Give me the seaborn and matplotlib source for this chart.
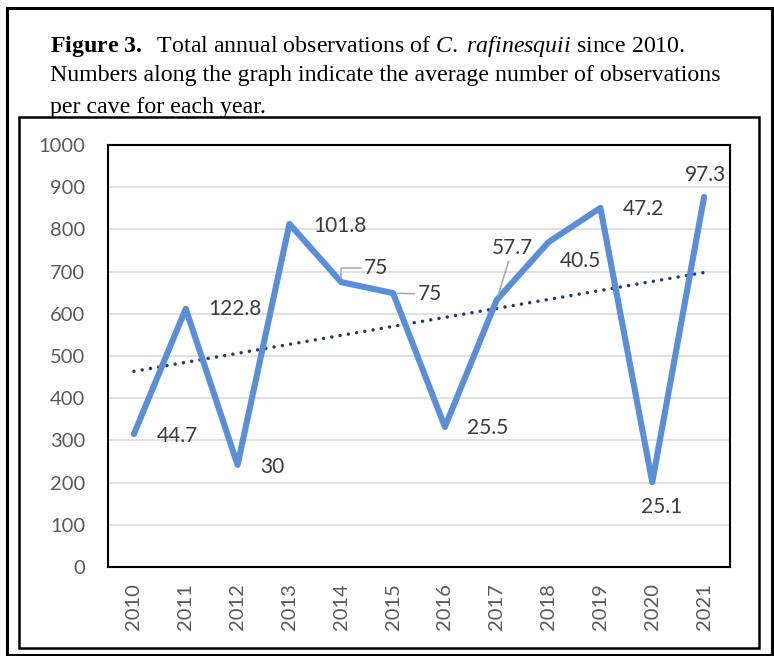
import numpy as np
import pandas as pd
import seaborn as sns
from matplotlib import pyplot as plt
from matplotlib.patches import Rectangle

years = [2010, 2011, 2012, 2013, 2014, 2015, 2016, 2017, 2018, 2019, 2020, 2021]
observations = [315, 612, 242, 813, 675, 649, 332, 633, 770, 851, 201, 877]
avg_per_cave = [44.7, 122.8, 30, 101.8, 75, 75, 25.5, 57.7, 40.5, 47.2, 25.1, 97.3]

# label offsets in pixels (dx, dy) and which ones get a leader line
label_offsets = [(43, -2), (49, 0), (35, -2), (50, -2), (35, 14), (37, -1),
                 (43, -1), (16, 52), (32, -19), (43, -1), (9, -25), (1, 22)]
leaders = {2014: 'angle,angleA=0,angleB=90,rad=0', 2015: 'arc3', 2017: 'arc3'}

df = pd.DataFrame({'Year': years, 'Observations': observations})

sns.set_style('white')
plt.rcParams['font.family'] = ['Lato', 'DejaVu Sans']
plt.rcParams['mathtext.fontset'] = 'custom'
plt.rcParams['mathtext.rm'] = 'Liberation Serif'
plt.rcParams['mathtext.it'] = 'Liberation Serif:italic'
plt.rcParams['mathtext.bf'] = 'Liberation Serif:bold'

fig = plt.figure(figsize=(7.74, 6.56), dpi=100)
W, H = 774, 656

# outer frame and caption
fig.patches.append(Rectangle((7 / W, 1 - 655 / H), 765 / W, 647 / H, transform=fig.transFigure,
                             fill=False, edgecolor='black', linewidth=2.2, zorder=0.1))
cap_kw = dict(fontsize=17.2, family='Liberation Serif', color='black', zorder=0.5, va='baseline')
fig.text(50 / W, 1 - 52 / H,
         r'$\mathbf{Figure}$ $\mathbf{3.}$  Total annual observations of $\mathit{C.}$ $\mathit{rafinesquii}$ since 2010.',
         **cap_kw)
fig.text(50 / W, 1 - 81 / H, 'Numbers along the graph indicate the average number of observations', **cap_kw)
fig.text(50 / W, 1 - 113 / H, 'per cave for each year.', **cap_kw)

# chart area box (covers the bottom of the caption)
fig.patches.append(Rectangle((19 / W, 1 - 648 / H), 740 / W, 531 / H, transform=fig.transFigure,
                             facecolor='white', edgecolor='black', linewidth=1.8, zorder=1))

ax = fig.add_axes([108 / W, 1 - 567 / H, 622 / W, 422 / H])
ax.set_zorder(2)

ax.grid(axis='y', color='#D9D9D9', linewidth=1.1, zorder=0)
ax.set_axisbelow(True)

sns.regplot(data=df, x='Year', y='Observations', scatter=False, ci=None, truncate=True, ax=ax,
            line_kws=dict(color='#1F3A6B', linewidth=2.5, linestyle=(0, (0.01, 2.4)),
                          dash_capstyle='round', zorder=3))
sns.lineplot(data=df, x='Year', y='Observations', ax=ax, color='#5B8ED9', linewidth=4.4,
             solid_capstyle='round', solid_joinstyle='round', zorder=4)

for year, obs, avg, (dx, dy) in zip(years, observations, avg_per_cave, label_offsets):
    arrow = None
    if year in leaders:
        arrow = dict(arrowstyle='-', color='#A6A6A6', linewidth=1.1, shrinkA=0, shrinkB=3,
                     connectionstyle=leaders[year])
    ax.annotate(f'{avg:g}', xy=(year, obs), xytext=(dx, dy), textcoords='offset pixels',
                ha='center', va='center', fontsize=15, color='#3A3A3A', arrowprops=arrow, zorder=5)

ax.set_xlim(2009.5, 2021.5)
ax.set_ylim(0, 1000)
ax.set_xticks(years)
ax.set_xticklabels([str(y) for y in years], rotation=90)
ax.set_yticks(range(0, 1001, 100))
ax.tick_params(axis='both', length=0, labelsize=14.5, labelcolor='#595959')
ax.tick_params(axis='y', pad=16.5)
ax.tick_params(axis='x', pad=11.5)
ax.set_xlabel('')
ax.set_ylabel('')
for s in ax.spines.values():
    s.set_visible(True)
    s.set_color('black')
    s.set_linewidth(1.5)

fig.savefig('out.png', dpi=100)
